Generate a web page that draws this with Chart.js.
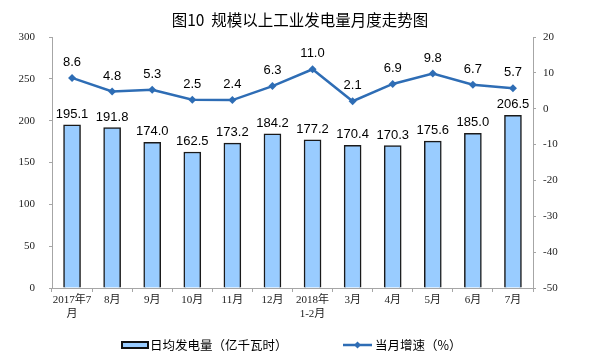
<!DOCTYPE html>
<html>
<head>
<meta charset="utf-8">
<script src="https://cdn.jsdelivr.net/npm/chart.js@4"></script>
<style>
html,body{margin:0;padding:0;background:#fff;}
canvas{display:block;}
</style>
</head>
<body>
<canvas id="c" width="604" height="360"></canvas>
<script>
const months=[["2017年7","月"],"8月","9月","10月","11月","12月",["2018年","1-2月"],"3月","4月","5月","6月","7月"];
const dailyOutput=[195.1,191.8,174.0,162.5,173.2,184.2,177.2,170.4,170.3,175.6,185.0,206.5];
const growth=[8.6,4.8,5.3,2.5,2.4,6.3,11.0,2.1,6.9,9.8,6.7,5.7];
const titleText="图10  规模以上工业发电量月度走势图";
const barLabel="日均发电量（亿千瓦时）";
const lineLabel="当月增速（%）";

const cjk='"Noto Sans CJK SC","Liberation Sans",sans-serif';
const serif='"Liberation Serif","Noto Sans CJK SC",serif';
const lineColor="#2E6DB5";
const barFill="#99CCFF";
const axisColor="#A6A6A6";

const extras={
id:"extras",
afterDatasetsDraw(chart){
const ctx=chart.ctx;
ctx.save();
ctx.fillStyle="#000";
ctx.textAlign="center";
ctx.textBaseline="alphabetic";
ctx.font='13px "Liberation Sans",Arial,sans-serif';
// dataset 0 = bars, dataset 1 = line
chart.getDatasetMeta(0).data.forEach((el,i)=>{
ctx.fillText(dailyOutput[i].toFixed(1),el.x,el.y-7);
});
chart.getDatasetMeta(1).data.forEach((el,i)=>{
ctx.fillText(growth[i].toFixed(1),el.x,el.y-12);
});
// title
ctx.font="15.5px "+cjk;
ctx.textBaseline="middle";
ctx.fillText(titleText,300,20);
// legend
const ly=345;
ctx.textAlign="left";
ctx.font="12.5px "+cjk;
ctx.fillStyle=barFill;
ctx.fillRect(122,342,26,6);
ctx.strokeStyle="#111";
ctx.lineWidth=2;
ctx.strokeRect(122,342,26,6);
ctx.fillStyle="#000";
ctx.fillText(barLabel,150,ly);
ctx.strokeStyle=lineColor;
ctx.lineWidth=2.5;
ctx.beginPath();ctx.moveTo(343,ly);ctx.lineTo(372,ly);ctx.stroke();
ctx.fillStyle=lineColor;
ctx.beginPath();ctx.moveTo(357.5,ly-3.5);ctx.lineTo(361,ly);ctx.lineTo(357.5,ly+3.5);ctx.lineTo(354,ly);ctx.closePath();ctx.fill();
ctx.fillStyle="#000";
ctx.fillText(lineLabel,375,ly);
ctx.restore();
}
};

new Chart(document.getElementById("c"),{
type:"bar",
data:{
labels:months,
datasets:[
{type:"bar",label:barLabel,data:dailyOutput,yAxisID:"y",backgroundColor:barFill,borderColor:"#1a1a1a",borderWidth:1.5,barThickness:17,order:1},
{type:"line",label:lineLabel,data:growth,yAxisID:"y1",borderColor:lineColor,backgroundColor:lineColor,borderWidth:2.5,pointStyle:"rectRot",pointRadius:4,pointBorderWidth:0,tension:0,order:0}
]
},
options:{
responsive:false,
animation:false,
events:[],
layout:{padding:{top:37,left:0,right:0,bottom:0}},
plugins:{legend:{display:false},title:{display:false},tooltip:{enabled:false}},
scales:{
x:{
grid:{display:true,drawOnChartArea:false,color:axisColor,tickLength:4,offset:true},
border:{color:axisColor,width:1},
ticks:{color:"#222",font:{family:serif,size:11},padding:2,maxRotation:0,autoSkip:false},
afterFit(s){s.height=72;}
},
y:{
position:"left",min:0,max:300,
grid:{drawOnChartArea:false,color:axisColor,tickLength:3},
border:{color:axisColor,width:1},
ticks:{stepSize:50,color:"#222",font:{family:serif,size:11},padding:14},
afterFit(s){s.width=52;}
},
y1:{
position:"right",min:-50,max:20,
grid:{drawOnChartArea:false,color:axisColor,tickLength:3},
border:{color:axisColor,width:1},
ticks:{stepSize:10,color:"#222",font:{family:serif,size:11},padding:7},
afterFit(s){s.width=71;}
}
}
},
plugins:[extras]
});
</script>
</body>
</html>
